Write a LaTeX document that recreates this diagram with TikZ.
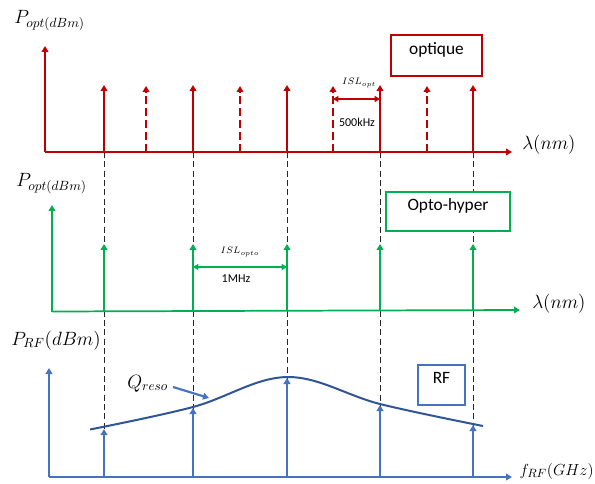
\documentclass[tikz,border=0pt]{standalone}
\usepackage{fontspec}
\setmainfont{Carlito}
\usetikzlibrary{arrows.meta,positioning}
\definecolor{optred}{HTML}{C00000}
\definecolor{hypgreen}{HTML}{00B050}
\definecolor{rfblue}{HTML}{4472C4}
\definecolor{curvenavy}{HTML}{2F5597}

\begin{document}
\begin{tikzpicture}[x=0.75pt,y=-0.75pt,
  optline/.style={optred,line width=1.6pt,-{Triangle[length=4.5pt,width=5pt]}},
  optdash/.style={optline,dash pattern=on 6pt off 3pt},
  hypline/.style={hypgreen,line width=1.3pt,-{Triangle[length=4.5pt,width=5pt]}},
  rfline/.style={rfblue,line width=1.4pt,-{Triangle[length=4.5pt,width=5pt]}},
  gap/.style={line width=1.3pt,{Triangle[length=4pt,width=4.5pt]}-{Triangle[length=4pt,width=4.5pt]}},
  guide/.style={black!85,line width=0.65pt,dash pattern=on 4.5pt off 2.5pt},
  axlbl/.style={font=\fontsize{14.5}{17}\selectfont,inner sep=0pt},
  small/.style={font=\fontsize{9}{11}\selectfont,inner sep=0pt},
  tiny/.style={font=\fontsize{7.5}{9}\selectfont,inner sep=0pt},
  box/.style={draw,fill=white,line width=1.5pt,text=black,text depth=10pt,
    font=\fontsize{13}{15}\selectfont}]
  \useasboundingbox (0,0) rectangle (595,484);

  % optique
  \coordinate (o0) at (45,152); \coordinate (oy) at (45,46); \coordinate (ox) at (512,152);
  \coordinate (ob1) at (104,152); \coordinate (ot1) at (104,85);
  \coordinate (ob2) at (193,152); \coordinate (ot2) at (193,85);
  \coordinate (ob3) at (287,152); \coordinate (ot3) at (287,85);
  \coordinate (ob4) at (380,152); \coordinate (ot4) at (380,85);
  \coordinate (ob5) at (473,152); \coordinate (ot5) at (473,85);
  \coordinate (db1) at (146,152); \coordinate (dt1) at (146,86);
  \coordinate (db2) at (240,152); \coordinate (dt2) at (240,86);
  \coordinate (db3) at (333,152); \coordinate (dt3) at (333,86);
  \coordinate (db4) at (427,152); \coordinate (dt4) at (427,86);
  \coordinate (isla) at (333,99); \coordinate (islb) at (380,99);

  % opto-hyper
  \coordinate (h0) at (52,311.5); \coordinate (hy) at (52,205); \coordinate (hx) at (520,310);
  \coordinate (hb1) at (104,311); \coordinate (ht1) at (104,244);
  \coordinate (hb2) at (193,311); \coordinate (ht2) at (193,244);
  \coordinate (hb3) at (287,310.5); \coordinate (ht3) at (287,244);
  \coordinate (hb4) at (380,310.5); \coordinate (ht4) at (380,244);
  \coordinate (hb5) at (473,310); \coordinate (ht5) at (473,244);
  \coordinate (hsla) at (193,267); \coordinate (hslb) at (287,267);

  % RF
  \coordinate (r0) at (49,477); \coordinate (ry) at (49,368); \coordinate (rx) at (512,477);
  \coordinate (rb1) at (104,477); \coordinate (rt1) at (104,429);
  \coordinate (rb2) at (193,477); \coordinate (rt2) at (193,408);
  \coordinate (rb3) at (287,477); \coordinate (rt3) at (287,378);
  \coordinate (rb4) at (380,477); \coordinate (rt4) at (380,405);
  \coordinate (rb5) at (473,477); \coordinate (rt5) at (473,425);
  \coordinate (qs) at (173,387); \coordinate (qe) at (209,398);

  \draw[guide] (ob1) -- (rb1); \draw[guide] (ob2) -- (rb2); \draw[guide] (ob3) -- (rb3);
  \draw[guide] (ob4) -- (rb4); \draw[guide] (ob5) -- (rb5);

  \draw[optline] (o0) -- (oy); \draw[optline] (o0) -- (ox);
  \draw[optline] (ob1) -- (ot1); \draw[optline] (ob2) -- (ot2); \draw[optline] (ob3) -- (ot3);
  \draw[optline] (ob4) -- (ot4); \draw[optline] (ob5) -- (ot5);
  \draw[optdash] (db1) -- (dt1); \draw[optdash] (db2) -- (dt2);
  \draw[optdash] (db3) -- (dt3); \draw[optdash] (db4) -- (dt4);
  \draw[gap,optred] (isla) -- (islb);

  \draw[hypline] (h0) -- (hy); \draw[hypline] (h0) -- (hx);
  \draw[hypline] (hb1) -- (ht1); \draw[hypline] (hb2) -- (ht2); \draw[hypline] (hb3) -- (ht3);
  \draw[hypline] (hb4) -- (ht4); \draw[hypline] (hb5) -- (ht5);
  \draw[gap,hypgreen] (hsla) -- (hslb);

  \draw[rfline] (r0) -- (ry); \draw[rfline] (r0) -- (rx);
  \draw[rfline] (rb1) -- (rt1); \draw[rfline] (rb2) -- (rt2); \draw[rfline] (rb3) -- (rt3);
  \draw[rfline] (rb4) -- (rt4); \draw[rfline] (rb5) -- (rt5);
  \draw[curvenavy,line width=1.5pt] plot[smooth,tension=0.6]
    coordinates {(90,429.5) (193,407) (287,377) (380,404) (483,426)};
  \draw[rfline,line width=1.6pt] (qs) -- (qe);

  % labels
  \node[axlbl,anchor=base west] (popt) at (14,24) {$P_{opt(dBm)}$};
  \node[axlbl,anchor=base west] (lamo) at (522,150) {$\lambda(nm)$};
  \node[axlbl,anchor=base west] (phyp) at (16,187) {$P_{opt(dBm)}$};
  \node[axlbl,anchor=base west] (lamh) at (532,308) {$\lambda(nm)$};
  \node[axlbl,anchor=base west] (prf) at (11,345) {$P_{RF}(dBm)$};
  \node[axlbl,anchor=base east,font=\fontsize{12.5}{15}\selectfont] (frf) at (594,475) {$f_{RF}(GHz)$};
  \node[axlbl,anchor=base west] (qlbl) at (127,388) {$Q_{reso}$};
  \node[tiny] (islo) at (359,83) {$ISL_{opt}$};
  \node[small] (khz) at (357,122) {500kHz};
  \node[tiny] (islh) at (240,252) {$ISL_{opto}$};
  \node[small] (mhz) at (236,279) {1MHz};

  \node[box,draw=optred,minimum width=68pt,minimum height=30.5pt] (optbox) at (436.5,55.5) {optique};
  \node[box,draw=hypgreen,minimum width=93pt,minimum height=29pt] (hypbox) at (448,211.5) {Opto-hyper};
  \node[box,draw=rfblue,minimum width=35pt,minimum height=30pt] (rfbox) at (441.5,385) {RF};
\end{tikzpicture}
\end{document}
